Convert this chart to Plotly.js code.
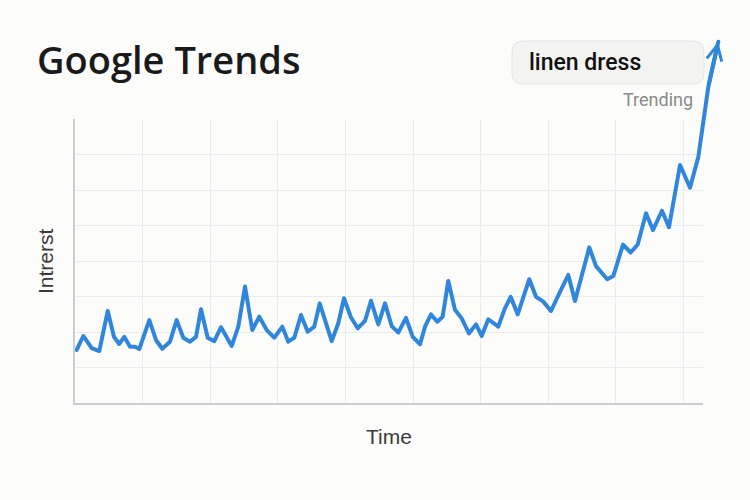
<!DOCTYPE html>
<html><head><meta charset="utf-8">
<script src="https://cdn.plot.ly/plotly-3.0.1.min.js"></script>
<style>
html,body{margin:0;padding:0;background:#fcfcfb;}
#chart{width:750px;height:500px;}
.scatterlayer .js-line{stroke-linejoin:round;stroke-linecap:round;}
</style>
</head><body><div id="chart"></div>
<script>
// Time (weeks, relative) and search interest
const weeks = [0.25,1.23,2.47,3.59,4.84,5.77,6.55,7.29,8.14,8.88,9.51,10.99,11.98,12.91,14.05,15.04,16.02,17.01,17.9,18.64,
  19.63,20.61,21.6,23.18,24.16,25.15,26.23,27.26,28.36,29.48,30.67,31.55,32.44,33.43,34.42,35.4,36.2,37.97,38.95,39.79,
  40.78,41.82,42.9,43.79,44.87,45.86,46.85,47.83,48.96,49.96,51.04,51.78,52.66,53.59,54.39,55.22,56.21,57.2,58.28,59.32,
  60.16,61.14,62.62,63.61,64.45,65.49,67.2,68.2,69.28,70.41,71.75,72.97,73.96,76.08,77.07,78.74,79.63,81.07,82.2,83.24,
  84.47,85.5,86.83,87.87,89.5,90.98,92.21,92.95,93.69,95.16];
const interest = [18.8,23.7,19.4,18.4,32.5,23.4,20.9,23.4,19.9,19.9,19.1,29.3,22.3,19.2,21.7,29.3,23.1,21.7,23.4,33.1,
  23.1,21.9,26.8,20.2,27.0,41.1,25.8,30.5,25.8,23.1,27.0,21.7,23.1,31.1,25.2,27.0,35.2,21.9,28.2,37.0,
  30.5,26.4,29.0,36.1,27.8,35.2,27.2,24.9,30.1,23.4,20.8,27.0,31.3,28.7,30.5,43.1,32.9,29.9,24.6,27.8,
  23.7,29.6,27.0,33.5,37.5,31.3,43.7,37.5,35.8,32.5,39.2,45.2,36.0,54.9,48.3,43.7,44.8,55.9,53.1,55.9,
  66.9,61.0,67.8,62.0,83.9,75.9,86.8,99.8,111.5,127.3];
const chartTitle = 'Google Trends';
const searchTerm = 'linen dress';
const statusLabel = 'Trending';
const xTitle = 'Time';
const yTitle = 'Intrerst';

const XMAX = 92.9, YMAX = 100;
const gridDom = {x:[75/750, 703/750], y:[(500-403.3)/500, (500-119.3)/500]};
const dataDom = {x:[75/750, 740/750], y:[gridDom.y[0], (500-20)/500]};
const x2max = XMAX*(dataDom.x[1]-dataDom.x[0])/(gridDom.x[1]-gridDom.x[0]);
const y2max = YMAX*(dataDom.y[1]-dataDom.y[0])/(gridDom.y[1]-gridDom.y[0]);
const blue = '#2f86db';
const n = weeks.length;

const traces = [
  {x:[], y:[], xaxis:'x', yaxis:'y', type:'scatter', mode:'lines', hoverinfo:'skip', showlegend:false},
  {x:weeks, y:interest, xaxis:'x2', yaxis:'y2', type:'scatter', mode:'lines',
   line:{color:blue, width:4}, showlegend:false, hoverinfo:'skip'}
];

// rounded box path in paper coords
function roundRect(x0,y0,x1,y1,r){
  const rx=r/750, ry=r/500;
  const X0=x0/750, X1=x1/750, Y0=1-y0/500, Y1=1-y1/500;
  return `M${X0+rx},${Y0} L${X1-rx},${Y0} Q${X1},${Y0} ${X1},${Y0-ry} L${X1},${Y1+ry} Q${X1},${Y1} ${X1-rx},${Y1} L${X0+rx},${Y1} Q${X0},${Y1} ${X0},${Y1+ry} L${X0},${Y0-ry} Q${X0},${Y0} ${X0+rx},${Y0} Z`;
}

const layout = {
  width:750, height:500,
  margin:{l:0,r:0,t:0,b:0},
  paper_bgcolor:'#fcfcfb', plot_bgcolor:'rgba(0,0,0,0)',
  showlegend:false,
  title:{text:chartTitle, x:37/750, xanchor:'left', xref:'paper', yref:'paper', y:1-61/500, yanchor:'middle',
         font:{family:'Open Sans', size:38, color:'#1a1a1a', weight:600}},
  xaxis:{domain:gridDom.x, range:[0,XMAX], dtick:10, tick0:0, showgrid:true, gridcolor:'#ebebeb', gridwidth:1,
         zeroline:false, showline:true, linecolor:'#cdcdcd', linewidth:2, showticklabels:false, ticks:'',
         anchor:'y', fixedrange:true,
         title:{text:xTitle, font:{family:'Liberation Sans', size:21, color:'#3a3a3a'}, standoff:25}},
  yaxis:{domain:gridDom.y, range:[0,YMAX], dtick:12.5, tick0:0, showgrid:true, gridcolor:'#ebebeb', gridwidth:1,
         zeroline:false, showline:true, linecolor:'#cdcdcd', linewidth:2, showticklabels:false, ticks:'',
         anchor:'x', fixedrange:true,
         title:{text:yTitle, font:{family:'Liberation Sans', size:21, color:'#3a3a3a'}, standoff:14}},
  xaxis2:{domain:dataDom.x, range:[0,x2max], visible:false, anchor:'y2', fixedrange:true},
  yaxis2:{domain:dataDom.y, range:[0,y2max], visible:false, anchor:'x2', fixedrange:true},
  shapes:[
    {type:'path', xref:'paper', yref:'paper', path:roundRect(512,41,704,84,11),
     fillcolor:'#f3f3f2', line:{color:'#e3e3e3', width:1}, layer:'below'}
  ],
  annotations:[
    {text:searchTerm, xref:'paper', yref:'paper', x:527/750, y:1-62/500, xanchor:'left', yanchor:'middle',
     showarrow:false, font:{family:'Roboto', size:23, color:'#111111', weight:500}},
    {text:statusLabel, xref:'paper', yref:'paper', x:695/750, y:1-100/500, xanchor:'right', yanchor:'middle',
     showarrow:false, font:{family:'Roboto', size:18, color:'#8a8a8a'}},
    {text:'', x:weeks[n-1], y:interest[n-1], xref:'x2', yref:'y2',
     ax:weeks[n-2], ay:interest[n-2], axref:'x2', ayref:'y2',
     showarrow:true, arrowhead:5, arrowsize:0.75, arrowwidth:4, arrowcolor:blue, standoff:0}
  ]
};

Plotly.newPlot('chart', traces, layout, {staticPlot:true, displayModeBar:false});
</script>
</body></html>
